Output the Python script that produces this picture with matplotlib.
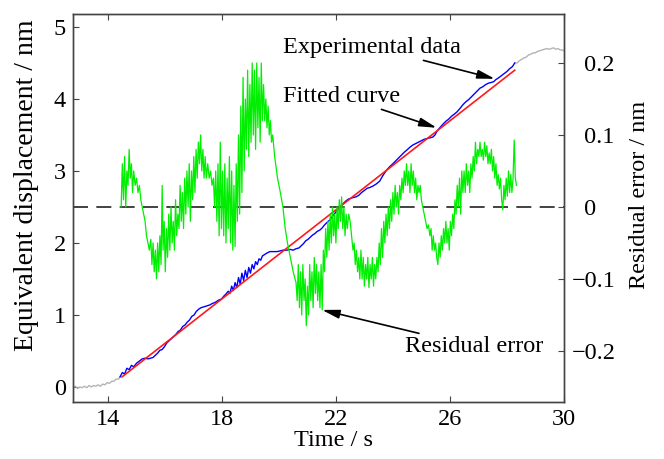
import matplotlib

matplotlib.use("Agg")
import matplotlib.pyplot as plt

plt.rcParams["font.family"] = ["Liberation Serif", "DejaVu Serif"]

# gray raw record before / after the fitted window
PRE_T = [12.77, 12.85, 12.93, 13.01, 13.09, 13.17, 13.25, 13.33, 13.41, 13.49, 13.57,
         13.65, 13.73, 13.81, 13.89, 13.97, 14.05, 14.13, 14.21, 14.29, 14.37, 14.42]
PRE_V = [-0.01, 0.01, -0.02, 0.00, -0.01, 0.01, -0.01, 0.02, 0.00, 0.02, 0.01,
         0.03, 0.01, 0.04, 0.03, 0.06, 0.05, 0.08, 0.08, 0.11, 0.11, 0.14]
POST_T = [28.28, 28.36, 28.44, 28.52, 28.60, 28.68, 28.76, 28.84, 28.92, 29.00, 29.08,
          29.16, 29.24, 29.32, 29.40, 29.48, 29.56, 29.64, 29.72, 29.80, 29.88, 29.96, 30.0]
POST_V = [4.50, 4.50, 4.53, 4.55, 4.57, 4.58, 4.61, 4.62, 4.64, 4.64, 4.66,
          4.67, 4.68, 4.69, 4.70, 4.69, 4.70, 4.71, 4.69, 4.70, 4.68, 4.68, 4.67]

# experimental data (blue)
EXP_T = [14.42, 14.50, 14.58, 14.66, 14.74, 14.82, 14.90, 15.00, 15.10, 15.20, 15.30,
         15.40, 15.50, 15.58, 15.66, 15.74, 15.82, 15.90, 15.98, 16.06, 16.14, 16.22,
         16.30, 16.38, 16.46, 16.54, 16.62, 16.70, 16.78, 16.86, 16.94, 17.02, 17.10,
         17.18, 17.26, 17.34, 17.42, 17.50, 17.58, 17.66, 17.74, 17.82, 17.90, 17.98,
         18.06, 18.14, 18.22, 18.28, 18.34, 18.40, 18.46, 18.52, 18.58, 18.64, 18.70,
         18.76, 18.82, 18.88, 18.94, 19.00, 19.06, 19.12, 19.18, 19.24, 19.30, 19.36,
         19.42, 19.50, 19.58, 19.68, 19.80, 19.93, 20.05, 20.15, 20.28, 20.40, 20.50,
         20.60, 20.70, 20.78, 20.86, 20.94, 21.02, 21.10, 21.18, 21.26, 21.34, 21.44,
         21.52, 21.60, 21.70, 21.79, 21.88, 21.96, 22.04, 22.14, 22.24, 22.34, 22.44,
         22.52, 22.60, 22.70, 22.80, 22.90, 23.00, 23.10, 23.19, 23.30, 23.42, 23.54,
         23.64, 23.74, 23.82, 23.89, 24.00, 24.10, 24.20, 24.30, 24.40, 24.49, 24.60,
         24.70, 24.80, 24.90, 25.00, 25.10, 25.20, 25.30, 25.40, 25.48, 25.56, 25.65,
         25.76, 25.86, 25.96, 26.06, 26.16, 26.25, 26.36, 26.46, 26.56, 26.66, 26.76,
         26.86, 26.96, 27.06, 27.16, 27.26, 27.36, 27.46, 27.54, 27.62, 27.70, 27.80,
         27.90, 28.00, 28.10, 28.20, 28.28]
EXP_V = [0.14, 0.20, 0.18, 0.26, 0.24, 0.30, 0.28, 0.33, 0.36, 0.39, 0.40,
         0.39, 0.40, 0.41, 0.44, 0.47, 0.51, 0.52, 0.56, 0.61, 0.64, 0.67,
         0.70, 0.73, 0.77, 0.79, 0.84, 0.86, 0.90, 0.93, 0.98, 1.00, 1.05,
         1.08, 1.10, 1.11, 1.12, 1.13, 1.14, 1.16, 1.17, 1.19, 1.21, 1.22,
         1.26, 1.29, 1.33, 1.30, 1.40, 1.34, 1.45, 1.38, 1.52, 1.43, 1.58,
         1.48, 1.62, 1.52, 1.66, 1.58, 1.70, 1.64, 1.74, 1.70, 1.78, 1.76,
         1.82, 1.84, 1.86, 1.88, 1.88, 1.88, 1.89, 1.90, 1.90, 1.91, 1.90,
         1.92, 1.93, 1.96, 1.99, 2.03, 2.05, 2.08, 2.11, 2.13, 2.16, 2.18,
         2.21, 2.25, 2.29, 2.32, 2.37, 2.41, 2.45, 2.49, 2.54, 2.58, 2.61,
         2.62, 2.63, 2.64, 2.66, 2.70, 2.73, 2.76, 2.77, 2.79, 2.82, 2.86,
         2.93, 2.99, 3.03, 3.06, 3.10, 3.14, 3.18, 3.22, 3.26, 3.29, 3.33,
         3.36, 3.38, 3.40, 3.42, 3.44, 3.45, 3.46, 3.47, 3.50, 3.56, 3.60,
         3.65, 3.69, 3.72, 3.76, 3.79, 3.82, 3.87, 3.92, 3.96, 3.99, 4.03,
         4.07, 4.11, 4.15, 4.17, 4.20, 4.22, 4.23, 4.24, 4.27, 4.29, 4.32,
         4.35, 4.38, 4.42, 4.45, 4.50]

# fitted straight line (red), end points
FIT_T = [14.49, 28.28]
FIT_V = [0.14, 4.40]

# residual error (green, right axis)
RES_T = [14.46, 14.50, 14.54, 14.58, 14.62, 14.66, 14.70, 14.74, 14.78, 14.82, 14.86,
         14.90, 14.95, 15.00, 15.05, 15.10, 15.15, 15.20, 15.25, 15.30, 15.35, 15.40,
         15.45, 15.50, 15.54, 15.58, 15.62, 15.66, 15.70, 15.74, 15.78, 15.82, 15.86,
         15.90, 15.93, 15.97, 16.01, 16.05, 16.09, 16.13, 16.17, 16.21, 16.25, 16.29,
         16.33, 16.37, 16.41, 16.45, 16.49, 16.53, 16.57, 16.61, 16.65, 16.69, 16.73,
         16.77, 16.81, 16.85, 16.89, 16.93, 16.97, 17.01, 17.05, 17.09, 17.13, 17.17,
         17.21, 17.25, 17.29, 17.33, 17.37, 17.41, 17.45, 17.50, 17.55, 17.60, 17.65,
         17.70, 17.74, 17.78, 17.82, 17.86, 17.90, 17.94, 17.98, 18.02, 18.06, 18.10,
         18.14, 18.18, 18.22, 18.26, 18.30, 18.34, 18.38, 18.42, 18.46, 18.50, 18.54,
         18.58, 18.62, 18.66, 18.70, 18.74, 18.78, 18.82, 18.86, 18.90, 18.94, 18.98,
         19.02, 19.06, 19.10, 19.14, 19.18, 19.22, 19.26, 19.30, 19.34, 19.38, 19.42,
         19.46, 19.50, 19.54, 19.58, 19.62, 19.66, 19.70, 19.74, 19.78, 19.85, 19.95,
         20.05, 20.14, 20.22, 20.30, 20.40, 20.50, 20.60, 20.64, 20.68, 20.72, 20.76,
         20.80, 20.84, 20.88, 20.92, 20.96, 21.00, 21.04, 21.08, 21.12, 21.16, 21.20,
         21.24, 21.28, 21.32, 21.36, 21.40, 21.44, 21.48, 21.52, 21.56, 21.60, 21.64,
         21.68, 21.72, 21.76, 21.80, 21.84, 21.88, 21.92, 21.96, 22.00, 22.04, 22.08,
         22.12, 22.16, 22.20, 22.24, 22.28, 22.32, 22.36, 22.40, 22.45, 22.50, 22.55,
         22.60, 22.64, 22.68, 22.72, 22.76, 22.80, 22.84, 22.88, 22.92, 22.96, 23.00,
         23.04, 23.08, 23.12, 23.16, 23.20, 23.24, 23.28, 23.32, 23.36, 23.40, 23.44,
         23.48, 23.52, 23.56, 23.60, 23.64, 23.68, 23.72, 23.76, 23.80, 23.84, 23.88,
         23.92, 23.96, 24.00, 24.04, 24.08, 24.12, 24.16, 24.20, 24.24, 24.28, 24.32,
         24.36, 24.40, 24.44, 24.48, 24.52, 24.56, 24.60, 24.64, 24.68, 24.72, 24.76,
         24.80, 24.84, 24.88, 24.92, 24.96, 25.00, 25.05, 25.10, 25.15, 25.20, 25.25,
         25.30, 25.34, 25.38, 25.42, 25.46, 25.50, 25.54, 25.58, 25.62, 25.66, 25.70,
         25.74, 25.78, 25.82, 25.86, 25.90, 25.94, 25.98, 26.02, 26.06, 26.10, 26.14,
         26.18, 26.22, 26.26, 26.30, 26.34, 26.38, 26.42, 26.46, 26.50, 26.54, 26.58,
         26.62, 26.66, 26.70, 26.74, 26.78, 26.82, 26.86, 26.90, 26.94, 26.98, 27.02,
         27.06, 27.10, 27.14, 27.18, 27.22, 27.26, 27.30, 27.34, 27.38, 27.42, 27.46,
         27.50, 27.54, 27.58, 27.62, 27.66, 27.70, 27.74, 27.78, 27.82, 27.86, 27.90,
         27.94, 27.98, 28.02, 28.06, 28.10, 28.14, 28.18, 28.22, 28.26, 28.30, 28.34]
RES_V = [0.00, 0.06, 0.01, 0.07, 0.00, 0.05, 0.03, 0.08, 0.04, 0.06, 0.02,
         0.05, 0.03, 0.04, 0.02, 0.03, 0.01, 0.00, -0.01, -0.02, -0.04, -0.05,
         -0.06, -0.045, -0.08, -0.05, -0.09, -0.06, -0.10, -0.05, -0.09, -0.04, -0.08,
         0.03, -0.06, -0.02, -0.09, -0.03, -0.07, -0.01, -0.06, 0.00, -0.05, -0.02,
         -0.06, 0.01, -0.04, -0.01, -0.03, 0.03, -0.02, 0.02, -0.03, 0.04, -0.01,
         0.05, 0.00, 0.06, -0.02, 0.05, 0.01, 0.07, 0.02, 0.08, 0.04, 0.09,
         0.06, 0.10, 0.05, 0.08, 0.04, 0.07, 0.04, 0.06, 0.04, 0.05, 0.03,
         0.04, 0.00, 0.05, -0.02, 0.06, -0.04, 0.09, -0.03, 0.05, -0.04, 0.06,
         -0.05, 0.04, -0.03, 0.07, -0.05, 0.05, -0.06, 0.03, -0.055, 0.06, -0.02,
         0.10, -0.01, 0.14, 0.02, 0.18, 0.05, 0.15, 0.08, 0.19, 0.07, 0.17,
         0.09, 0.20, 0.10, 0.19, 0.08, 0.20, 0.11, 0.18, 0.09, 0.20, 0.12,
         0.17, 0.12, 0.15, 0.11, 0.14, 0.10, 0.12, 0.09, 0.10, 0.07, 0.04,
         0.02, 0.00, -0.03, -0.05, -0.07, -0.09, -0.105, -0.13, -0.08, -0.14, -0.09,
         -0.15, -0.08, -0.13, -0.10, -0.165, -0.11, -0.15, -0.08, -0.13, -0.09, -0.14,
         -0.07, -0.12, -0.08, -0.13, -0.09, -0.14, -0.08, -0.143, -0.06, -0.09, -0.03,
         -0.07, -0.02, -0.06, -0.01, -0.05, 0.00, -0.04, -0.01, -0.05, 0.00, -0.03,
         0.01, -0.02, 0.014, -0.03, 0.00, -0.04, -0.01, -0.03, -0.01, -0.02, -0.04,
         -0.06, -0.05, -0.08, -0.06, -0.09, -0.07, -0.10, -0.06, -0.10, -0.07, -0.11,
         -0.08, -0.10, -0.07, -0.112, -0.08, -0.10, -0.07, -0.11, -0.08, -0.10, -0.07,
         -0.09, -0.05, -0.08, -0.03, -0.07, -0.02, -0.05, -0.01, -0.04, 0.00, -0.03,
         0.01, -0.02, 0.02, -0.01, 0.03, 0.00, 0.02, -0.01, 0.03, 0.01, 0.04,
         0.02, 0.05, 0.03, 0.06, 0.03, 0.05, 0.02, 0.06, 0.03, 0.05, 0.02,
         0.04, 0.01, 0.03, 0.02, 0.03, 0.01, 0.00, -0.01, -0.02, -0.03, -0.025,
         -0.04, -0.03, -0.06, -0.04, -0.06, -0.05, -0.07, -0.08, -0.05, -0.07, -0.04,
         -0.06, -0.03, -0.05, -0.02, -0.05, -0.03, -0.06, -0.02, -0.04, -0.01, -0.03,
         0.01, -0.01, 0.03, 0.00, 0.04, -0.01, 0.05, 0.02, 0.05, 0.02, 0.06,
         0.03, 0.05, 0.02, 0.06, 0.04, 0.07, 0.05, 0.09, 0.06, 0.08, 0.07,
         0.09, 0.07, 0.08, 0.065, 0.09, 0.07, 0.085, 0.06, 0.075, 0.06, 0.08,
         0.05, 0.07, 0.04, 0.06, 0.03, 0.045, 0.025, 0.04, 0.01, -0.004, 0.03,
         0.01, 0.04, 0.015, 0.05, 0.02, 0.045, 0.02, 0.04, 0.093, 0.04, 0.03]

X_TICKS = [14, 18, 22, 26, 30]
Y_TICKS = [0, 1, 2, 3, 4, 5]
R_TICKS = [-0.2, -0.1, 0, 0.1, 0.2]
R_LABELS = ["\u22120.2", "\u22120.1", "\u20070", "\u20070.1", "\u20070.2"]

FS = 17.5
fig = plt.figure(figsize=(6.64, 4.59), dpi=100)
ax = fig.add_axes([0.110, 0.124, 0.739, 0.8455])
ax2 = ax.twinx()

ax.plot(PRE_T, PRE_V, color="#b4b4b4", lw=1.0)
ax.plot(POST_T, POST_V, color="#b4b4b4", lw=1.0)
ax.plot(EXP_T, EXP_V, color="#0000ff", lw=1.0, zorder=3)
ax.plot(FIT_T, FIT_V, color="#ff1a1a", lw=1.2, zorder=4)

ax2.plot(RES_T, RES_V, color="#00ee00", lw=0.9, zorder=2)
ax2.axhline(0, color="#222222", lw=1.2, dashes=(9, 5), zorder=1)

ax.set_xlim(12.77, 30)
ax.set_ylim(-0.21, 5.18)
ax2.set_ylim(-0.271, 0.268)
ax.set_xticks(X_TICKS)
ax.set_yticks(Y_TICKS)
ax2.set_yticks(R_TICKS)
ax2.set_yticklabels(R_LABELS)

ax.tick_params(axis="x", direction="in", top=True, length=4, labelsize=FS, pad=5, color="#444444")
ax.tick_params(axis="y", direction="in", right=False, length=4, labelsize=FS, pad=5, color="#444444")
ax2.tick_params(axis="y", direction="in", length=4, labelsize=FS, pad=6, color="#444444")
for a in (ax, ax2):
    for s in a.spines.values():
        s.set_color("#444444")
        s.set_linewidth(1.0)

ax.set_xlabel("Time / s", fontsize=FS, va="center")
ax.xaxis.set_label_coords(0.53, -0.098)
ax.set_ylabel("Equivalent displacement / nm", fontsize=20, va="center")
ax.yaxis.set_label_coords(-0.094, 0.559)
ax2.set_ylabel("Residual error / nm", fontsize=FS, va="center")
ax2.yaxis.set_label_coords(1.155, 0.534)

arrow = dict(arrowstyle="-|>,head_length=0.6,head_width=0.15", color="black", lw=1.2, shrinkA=0, shrinkB=0)
ax.annotate("Experimental data", xy=(27.58, 4.28), xytext=(20.14, 4.72),
            fontsize=FS, ha="left", va="center", arrowprops=arrow, zorder=6)
ax.annotate("Fitted curve", xy=(25.54, 3.60), xytext=(20.14, 4.04),
            fontsize=FS, ha="left", va="center", arrowprops=arrow, zorder=6)
ax2.annotate("Residual error", xy=(21.51, -0.143), xytext=(24.42, -0.194),
             fontsize=FS, ha="left", va="center", arrowprops=arrow, zorder=6)

fig.savefig("out.png", dpi=100, facecolor="white")
